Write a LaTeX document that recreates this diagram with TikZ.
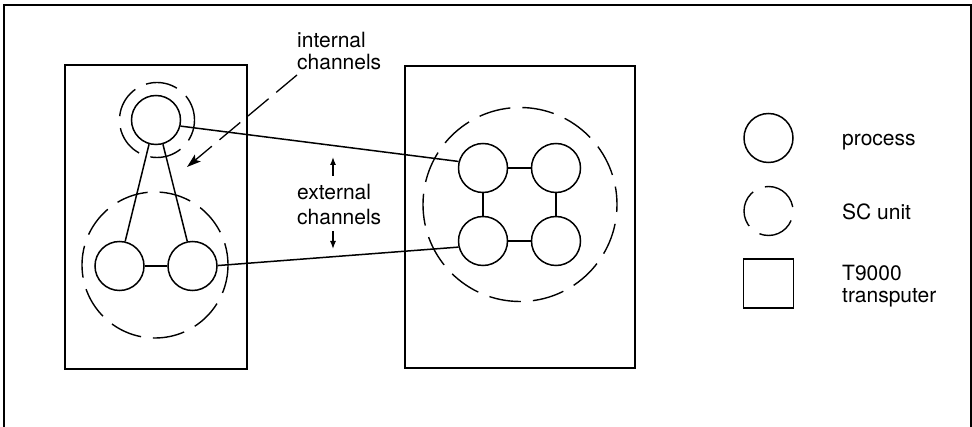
\documentclass[tikz,border=0pt]{standalone}
\usepackage{fontspec}
\setmainfont{TeX Gyre Heros}
\usetikzlibrary{arrows.meta}
\begin{document}
\begin{tikzpicture}[x=1pt,y=-1pt,
  proc/.style={circle,draw,line width=1.5pt,minimum size=49pt,inner sep=0pt},
  scunit/.style={circle,draw,line width=1.4pt,dash pattern=on 32pt off 12pt,inner sep=0pt},
  tp/.style={rectangle,draw,line width=1.6pt,inner sep=0pt},
  chan/.style={line width=1.5pt},
  pointer/.style={line width=1.3pt},
  lbl/.style={font=\fontsize{21}{22}\selectfont,inner sep=0pt,align=left,anchor=base west},
  ]
\useasboundingbox (0,0) rectangle (972,427);
% outer frame, open at the bottom
\draw[line width=1.8pt] (4,427) -- (4,5) -- (971,5) -- (971,427);

% transputers
\node[tp,minimum width=182pt,minimum height=304pt] (T1) at (156,217) {};
\node[tp,minimum width=230pt,minimum height=302pt] (T2) at (520,217) {};

% SC units
\node[scunit,minimum size=75pt,dash phase=6pt] (S1) at (157,120) {};
\node[scunit,minimum size=146pt,dash phase=10pt] (S2) at (155,265) {};
\node[scunit,minimum size=194pt,dash phase=14pt] (S3) at (520,204.5) {};

% processes
\node[proc] (A) at (156,120) {};
\node[proc] (B) at (119.5,266) {};
\node[proc] (C) at (192.5,266) {};
\node[proc] (D) at (483,168) {};
\node[proc] (E) at (556,168) {};
\node[proc] (F) at (483,241) {};
\node[proc] (G) at (556,241) {};

% internal channels
\draw[chan] (A.254) -- (B.77);
\draw[chan] (A.286) -- (C.102);
\draw[chan] (B.east) -- (C.west);
\draw[chan] (D.east) -- (E.west);
\draw[chan] (F.east) -- (G.west);
\draw[chan] (D.south) -- (F.north);
\draw[chan] (E.south) -- (G.north);

% external channels
\draw[chan] (A.-14) -- (D.165);
\draw[chan] (C.1) -- (F.194);

% labels and pointers (base anchor sits on the last line)
\node[lbl] (intl) at (297,69.3) {internal\\channels};
\coordinate (ip0) at (297,75);
\coordinate (ip1) at (187,167);
\draw[pointer,dash pattern=on 27pt off 10pt,-{Stealth[length=14pt,width=9pt,inset=3pt]}] (ip0) -- (ip1);

\node[lbl] (extl) at (297,225) {external\\[3pt]channels};
\coordinate (eu0) at (333,176);
\coordinate (eu1) at (333,157);
\coordinate (ed0) at (333,231);
\coordinate (ed1) at (333,249);
\draw[pointer,-{Latex[length=8pt,width=6pt]}] (eu0) -- (eu1);
\draw[pointer,-{Latex[length=8pt,width=6pt]}] (ed0) -- (ed1);

% legend
\node[proc] (LP) at (768.5,138) {};
\node[scunit,minimum size=49pt,dash pattern=on 38pt off 13pt,dash phase=-4pt] (LS) at (768.5,211) {};
\node[tp,minimum width=50pt,minimum height=49pt] (LT) at (768.5,283.5) {};
\node[lbl] (lpl) at (842,146) {process};
\node[lbl] (lsl) at (842,219.3) {SC unit};
\node[lbl] (ltl) at (842,303) {T9000\\transputer};
\end{tikzpicture}
\end{document}
